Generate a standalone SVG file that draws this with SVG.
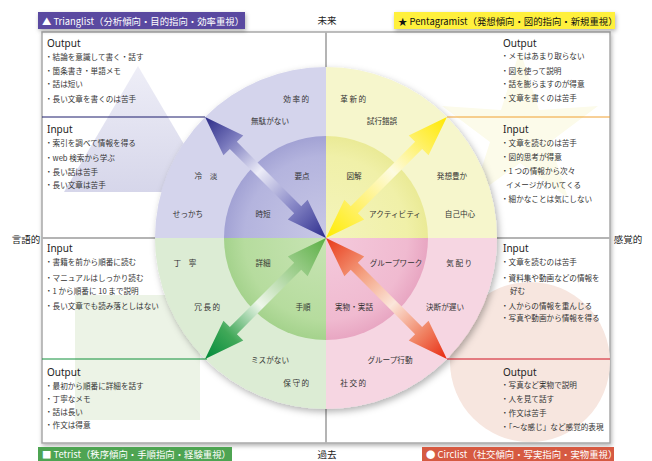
<svg xmlns="http://www.w3.org/2000/svg" xmlns:xlink="http://www.w3.org/1999/xlink" width="652" height="461" viewBox="0 0 652 461">
<style>
text{font-family:"Noto Sans CJK JP","Noto Sans",sans-serif;fill:#333}
.h{font-family:"Noto Sans","Liberation Sans",sans-serif;font-size:10px;fill:#222}
.b{font-size:7.6px}
.l{font-size:7.6px;text-anchor:middle}
.ax{font-size:9.5px;fill:#222}
.bd{font-size:9.4px}
.axis{stroke:#b4b4b4;stroke-width:2;fill:none}
</style>
<defs>
<path id="arw" d="M0,0 L40,-14 L40,-5 L131,-5 L131,-14 L171,0 L131,14 L131,5 L40,5 L40,14 Z"/>
<linearGradient id="gTL" x1="0" y1="0" x2="1" y2="0">
<stop offset="0" stop-color="#2c2c8c"/><stop offset="0.28" stop-color="#8a8ac8"/><stop offset="0.55" stop-color="#ececf8"/><stop offset="0.8" stop-color="#7878bc"/><stop offset="1" stop-color="#2a2a86"/>
</linearGradient>
<linearGradient id="gTR" x1="0" y1="0" x2="1" y2="0">
<stop offset="0" stop-color="#ffec00"/><stop offset="0.3" stop-color="#fff27a"/><stop offset="0.55" stop-color="#fdfbe2"/><stop offset="0.8" stop-color="#fff05a"/><stop offset="1" stop-color="#ffe800"/>
</linearGradient>
<linearGradient id="gBL" x1="0" y1="0" x2="1" y2="0">
<stop offset="0" stop-color="#5aae44"/><stop offset="0.3" stop-color="#a6d296"/><stop offset="0.55" stop-color="#eef6ea"/><stop offset="0.8" stop-color="#40a858"/><stop offset="1" stop-color="#008a3a"/>
</linearGradient>
<linearGradient id="gBR" x1="0" y1="0" x2="1" y2="0">
<stop offset="0" stop-color="#e83818"/><stop offset="0.3" stop-color="#f4a080"/><stop offset="0.55" stop-color="#fbe6da"/><stop offset="0.8" stop-color="#f08060"/><stop offset="1" stop-color="#e82810"/>
</linearGradient>
<linearGradient id="gTri" x1="0" y1="0" x2="0" y2="1">
<stop offset="0" stop-color="#eeeef7"/><stop offset="1" stop-color="#d6d6ea"/>
</linearGradient>
<radialGradient id="rTL" gradientUnits="userSpaceOnUse" cx="326" cy="238" r="102"><stop offset="0" stop-color="#c8c8e6"/><stop offset="0.8" stop-color="#b4b4de"/><stop offset="1" stop-color="#a2a2d4"/></radialGradient>
<radialGradient id="rTR" gradientUnits="userSpaceOnUse" cx="326" cy="238" r="102"><stop offset="0" stop-color="#f4f4bc"/><stop offset="0.8" stop-color="#f0f0a8"/><stop offset="1" stop-color="#eaea96"/></radialGradient>
<radialGradient id="rBL" gradientUnits="userSpaceOnUse" cx="326" cy="238" r="102"><stop offset="0" stop-color="#c8e4b4"/><stop offset="0.8" stop-color="#b6dc9e"/><stop offset="1" stop-color="#a4d28c"/></radialGradient>
<radialGradient id="rBR" gradientUnits="userSpaceOnUse" cx="326" cy="238" r="102"><stop offset="0" stop-color="#f4cadc"/><stop offset="0.8" stop-color="#f0bad0"/><stop offset="1" stop-color="#e8a6c2"/></radialGradient>
<filter id="sh" x="-10%" y="-10%" width="125%" height="125%"><feDropShadow dx="2" dy="3" stdDeviation="3.5" flood-color="#000" flood-opacity="0.3"/></filter>
<filter id="bsh" x="-10%" y="-30%" width="120%" height="180%"><feDropShadow dx="1" dy="2" stdDeviation="2" flood-color="#000" flood-opacity="0.3"/></filter>
</defs>

<g id="frame">
<rect x="42" y="32" width="568" height="411" fill="#fff" stroke="#a8a8a8" stroke-width="1.5" filter="url(#bsh)"/>
<polygon points="138,66 212,192 64,192" fill="url(#gTri)"/>
<polygon points="520,50 539,110 598,106 550,142 568,198 520,163 472,198 490,142 442,106 501,110" fill="#fcfbea"/>
<rect x="75" y="295" width="125" height="125" fill="#ecf3e6"/>
<circle cx="530" cy="362" r="80" fill="#f7e6df"/>
<line class="axis" x1="326" y1="32" x2="326" y2="443"/>
<line class="axis" x1="42" y1="238" x2="610" y2="238"/>
</g>

<g id="circle">
<g filter="url(#sh)">
<path d="M326,238 L155,238 A171,171 0 0 1 326,67 Z" fill="#d4d4ec"/>
<path d="M326,238 L326,67 A171,171 0 0 1 497,238 Z" fill="#f6f6cc"/>
<path d="M326,238 L497,238 A171,171 0 0 1 326,409 Z" fill="#f6d6e2"/>
<path d="M326,238 L326,409 A171,171 0 0 1 155,238 Z" fill="#dcecd4"/>
</g>
<path d="M326,238 L224,238 A102,102 0 0 1 326,136 Z" fill="url(#rTL)"/>
<path d="M326,238 L326,136 A102,102 0 0 1 428,238 Z" fill="url(#rTR)"/>
<path d="M326,238 L428,238 A102,102 0 0 1 326,340 Z" fill="url(#rBR)"/>
<path d="M326,238 L326,340 A102,102 0 0 1 224,238 Z" fill="url(#rBL)"/>
</g>

<g id="connectors">
<line x1="42" y1="117" x2="205" y2="117" stroke="#1c1c6c" stroke-width="1"/>
<line x1="447" y1="117" x2="610" y2="117" stroke="#f0a030" stroke-width="1"/>
<line x1="42" y1="359" x2="207" y2="359" stroke="#10903a" stroke-width="1"/>
<line x1="447" y1="359" x2="610" y2="359" stroke="#d01020" stroke-width="1"/>
<use xlink:href="#arw" href="#arw" fill="url(#gTL)" transform="translate(326,238) rotate(225)"/>
<use xlink:href="#arw" href="#arw" fill="url(#gTR)" transform="translate(326,238) rotate(-45)"/>
<use xlink:href="#arw" href="#arw" fill="url(#gBL)" transform="translate(326,238) rotate(135)"/>
<use xlink:href="#arw" href="#arw" fill="url(#gBR)" transform="translate(326,238) rotate(45)"/>
</g>

<g id="labels-tl">
<text class="l" x="297" y="102" letter-spacing="1.5">効率的</text>
<text class="l" x="270" y="124">無駄がない</text>
<text class="l" x="206" y="179">冷　淡</text>
<text class="l" x="302" y="179">要点</text>
<text class="l" x="188" y="217">せっかち</text>
<text class="l" x="263" y="217">時短</text>
</g>
<g id="labels-tr">
<text class="l" x="354" y="102" letter-spacing="1.5">革新的</text>
<text class="l" x="382" y="124">試行錯誤</text>
<text class="l" x="354" y="179">図解</text>
<text class="l" x="452" y="179">発想豊か</text>
<text class="l" x="395" y="217">アクティビティ</text>
<text class="l" x="460" y="217">自己中心</text>
</g>
<g id="labels-bl">
<text class="l" x="185" y="266">丁　寧</text>
<text class="l" x="263" y="266">詳細</text>
<text class="l" x="208" y="310" letter-spacing="1.5">冗長的</text>
<text class="l" x="303" y="310">手順</text>
<text class="l" x="270" y="363">ミスがない</text>
<text class="l" x="297" y="386" letter-spacing="1.5">保守的</text>
</g>
<g id="labels-br">
<text class="l" x="396" y="266">グループワーク</text>
<text class="l" x="460" y="266" letter-spacing="1.5">気配り</text>
<text class="l" x="354" y="310">実物・実話</text>
<text class="l" x="445" y="310">決断が遅い</text>
<text class="l" x="390" y="363">グループ行動</text>
<text class="l" x="354" y="386" letter-spacing="1.5">社交的</text>
</g>

<g id="card-tl">
<text class="h" x="47" y="47">Output</text>
<text class="b" x="45" y="60">・結論を意識して書く・話す</text>
<text class="b" x="45" y="74">・箇条書き・単語メモ</text>
<text class="b" x="45" y="87">・話は短い</text>
<text class="b" x="45" y="102">・長い文章を書くのは苦手</text>
<text class="h" x="47" y="133">Input</text>
<text class="b" x="45" y="146">・索引を調べて情報を得る</text>
<text class="b" x="45" y="161">・web 検索から学ぶ</text>
<text class="b" x="45" y="175">・長い話は苦手</text>
<text class="b" x="45" y="188">・長い文章は苦手</text>
</g>
<g id="card-tr">
<text class="h" x="503" y="47">Output</text>
<text class="b" x="501" y="59">・メモはあまり取らない</text>
<text class="b" x="501" y="74">・図を使って説明</text>
<text class="b" x="501" y="87">・話を膨らますのが得意</text>
<text class="b" x="501" y="101">・文章を書くのは苦手</text>
<text class="h" x="503" y="133">Input</text>
<text class="b" x="501" y="146">・文章を読むのは苦手</text>
<text class="b" x="501" y="160">・図的思考が得意</text>
<text class="b" x="501" y="174">・1 つの情報から次々</text>
<text class="b" x="506" y="188">イメージがわいてくる</text>
<text class="b" x="501" y="202">・細かなことは気にしない</text>
</g>
<g id="card-bl">
<text class="h" x="47" y="252">Input</text>
<text class="b" x="45" y="265">・書籍を前から順番に読む</text>
<text class="b" x="45" y="281">・マニュアルはしっかり読む</text>
<text class="b" x="45" y="294">・1 から順番に 10 まで説明</text>
<text class="b" x="45" y="309">・長い文章でも読み落としはない</text>
<text class="h" x="47" y="376">Output</text>
<text class="b" x="45" y="389">・最初から順番に詳細を話す</text>
<text class="b" x="45" y="402">・丁寧なメモ</text>
<text class="b" x="45" y="415">・話は長い</text>
<text class="b" x="45" y="428">・作文は得意</text>
</g>
<g id="card-br">
<text class="h" x="503" y="252">Input</text>
<text class="b" x="501" y="265">・文章を読むのは苦手</text>
<text class="b" x="501" y="281">・資料集や動画などの情報を</text>
<text class="b" x="510" y="294">好む</text>
<text class="b" x="501" y="309">・人からの情報を重んじる</text>
<text class="b" x="501" y="321">・写真や動画から情報を得る</text>
<text class="h" x="503" y="376">Output</text>
<text class="b" x="501" y="388">・写真など実物で説明</text>
<text class="b" x="501" y="402">・人を見て話す</text>
<text class="b" x="501" y="416">・作文は苦手</text>
<text class="b" x="501" y="430">・「～な感じ」など感覚的表現</text>
</g>

<g id="axis-labels">
<text class="ax" x="327" y="24" text-anchor="middle">未来</text>
<text class="ax" x="327" y="458" text-anchor="middle">過去</text>
<text class="ax" x="26" y="243" text-anchor="middle">言語的</text>
<text class="ax" x="628" y="243" text-anchor="middle">感覚的</text>
</g>

<g id="badge-trianglist">
<rect x="38" y="12" width="207" height="17" fill="#5a4aa0" filter="url(#bsh)"/>
<text class="bd" x="42" y="24.5" style="fill:#fff">▲ Trianglist（分析傾向・目的指向・効率重視）</text>
</g>
<g id="badge-pentagramist">
<rect x="394" y="12" width="221" height="17" fill="#fff03c" filter="url(#bsh)"/>
<text class="bd" x="398" y="24.5" style="fill:#111">★ Pentagramist（発想傾向・図的指向・新規重視）</text>
</g>
<g id="badge-tetrist">
<rect x="38" y="447" width="194" height="16" fill="#4ea452"/>
<text class="bd" x="42" y="458" style="fill:#fff">■ Tetrist（秩序傾向・手順指向・経験重視）</text>
</g>
<g id="badge-circlist">
<rect x="422" y="447" width="192" height="16" fill="#d65a42"/>
<text class="bd" x="426" y="458" style="fill:#fff">● Circlist（社交傾向・写実指向・実物重視）</text>
</g>
</svg>
